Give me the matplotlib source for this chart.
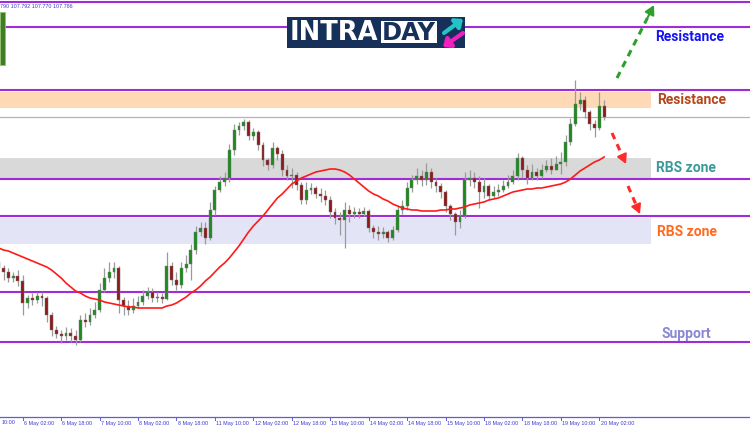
import matplotlib

matplotlib.use("Agg")
import matplotlib.pyplot as plt  # noqa: E402
import matplotlib.transforms as mtransforms  # noqa: E402
from matplotlib.patches import FancyArrowPatch, Rectangle  # noqa: E402

W, H = 750, 430

# USDJPY, 2-hour candles from 5 May to 20 May (open = previous close)
first_open = 107.061
closes = [
    107.031, 107.011, 106.981, 106.991, 106.966, 106.856, 106.881, 106.871, 106.891, 106.881,
    106.796, 106.721, 106.701, 106.691, 106.706, 106.691, 106.671, 106.771, 106.761, 106.796,
    106.821, 106.921, 106.981, 107.011, 107.031, 106.871, 106.841, 106.821, 106.841, 106.861,
    106.891, 106.911, 106.881, 106.886, 106.876, 107.041, 106.971, 106.946, 107.031, 107.051,
    107.121, 107.211, 107.231, 107.181, 107.321, 107.421, 107.461, 107.481, 107.621, 107.721,
    107.741, 107.761, 107.691, 107.711, 107.646, 107.571, 107.546, 107.631, 107.601, 107.521,
    107.491, 107.496, 107.446, 107.371, 107.421, 107.431, 107.401, 107.391, 107.371, 107.311,
    107.281, 107.271, 107.321, 107.301, 107.311, 107.301, 107.316, 107.231, 107.211, 107.201,
    107.211, 107.181, 107.221, 107.321, 107.341, 107.431, 107.471, 107.491, 107.471, 107.511,
    107.461, 107.441, 107.411, 107.341, 107.301, 107.261, 107.291, 107.471, 107.481, 107.461,
    107.411, 107.441, 107.391, 107.411, 107.421, 107.441, 107.461, 107.491, 107.581, 107.521,
    107.481, 107.511, 107.491, 107.521, 107.541, 107.521, 107.551, 107.561, 107.661, 107.751,
    107.851, 107.871, 107.811, 107.751, 107.731, 107.841, 107.786,
]
highs = [
    107.081, 107.046, 107.031, 107.011, 107.021, 106.996, 106.896, 106.906, 106.911, 106.911,
    106.891, 106.811, 106.741, 106.721, 106.736, 106.731, 106.721, 106.796, 106.806, 106.831,
    106.861, 106.956, 107.031, 107.061, 107.061, 107.041, 106.886, 106.871, 106.881, 106.891,
    106.921, 106.936, 106.931, 106.911, 106.906, 107.111, 107.061, 107.011, 107.061, 107.096,
    107.151, 107.241, 107.261, 107.261, 107.361, 107.441, 107.491, 107.511, 107.651, 107.751,
    107.761, 107.776, 107.771, 107.731, 107.721, 107.661, 107.581, 107.661, 107.641, 107.621,
    107.546, 107.531, 107.511, 107.461, 107.461, 107.456, 107.441, 107.431, 107.421, 107.391,
    107.331, 107.311, 107.361, 107.346, 107.336, 107.331, 107.336, 107.326, 107.246, 107.241,
    107.236, 107.221, 107.241, 107.346, 107.371, 107.461, 107.496, 107.531, 107.521, 107.556,
    107.531, 107.481, 107.456, 107.421, 107.351, 107.311, 107.321, 107.511, 107.521, 107.511,
    107.491, 107.481, 107.451, 107.441, 107.451, 107.471, 107.496, 107.521, 107.606, 107.591,
    107.546, 107.551, 107.531, 107.551, 107.571, 107.581, 107.591, 107.611, 107.696, 107.781,
    107.971, 107.911, 107.891, 107.821, 107.771, 107.911, 107.871,
]
lows = [
    107.011, 106.971, 106.961, 106.961, 106.941, 106.796, 106.831, 106.846, 106.856, 106.841,
    106.761, 106.691, 106.681, 106.656, 106.671, 106.661, 106.646, 106.661, 106.736, 106.746,
    106.781, 106.811, 106.911, 106.961, 106.981, 106.806, 106.796, 106.796, 106.806, 106.831,
    106.846, 106.876, 106.861, 106.861, 106.856, 106.871, 106.946, 106.921, 106.931, 107.011,
    106.971, 107.101, 107.191, 107.151, 107.171, 107.296, 107.411, 107.441, 107.461, 107.596,
    107.696, 107.721, 107.671, 107.671, 107.621, 107.541, 107.521, 107.531, 107.571, 107.491,
    107.471, 107.431, 107.421, 107.351, 107.351, 107.401, 107.381, 107.361, 107.346, 107.281,
    107.251, 107.196, 107.131, 107.261, 107.281, 107.281, 107.291, 107.211, 107.181, 107.171,
    107.181, 107.161, 107.171, 107.211, 107.301, 107.321, 107.411, 107.451, 107.441, 107.446,
    107.431, 107.411, 107.381, 107.311, 107.271, 107.196, 107.231, 107.281, 107.441, 107.431,
    107.331, 107.381, 107.371, 107.381, 107.391, 107.411, 107.431, 107.451, 107.471, 107.481,
    107.451, 107.471, 107.471, 107.481, 107.511, 107.501, 107.521, 107.501, 107.541, 107.646,
    107.741, 107.821, 107.781, 107.721, 107.686, 107.721, 107.771,
]
# moving average as drawn by the terminal
ma_values = [
    107.131, 107.121, 107.116, 107.106, 107.096, 107.086, 107.076, 107.066, 107.056, 107.046,
    107.036, 107.021, 107.001, 106.981, 106.956, 106.936, 106.916, 106.906, 106.891, 106.881,
    106.876, 106.871, 106.861, 106.856, 106.851, 106.846, 106.841, 106.836, 106.836, 106.831,
    106.831, 106.831, 106.831, 106.831, 106.831, 106.841, 106.846, 106.856, 106.871, 106.886,
    106.906, 106.921, 106.941, 106.966, 106.986, 107.011, 107.036, 107.056, 107.081, 107.111,
    107.141, 107.176, 107.211, 107.241, 107.266, 107.291, 107.321, 107.351, 107.381, 107.401,
    107.426, 107.451, 107.466, 107.481, 107.491, 107.501, 107.511, 107.516, 107.521, 107.526,
    107.526, 107.521, 107.511, 107.496, 107.476, 107.456, 107.436, 107.416, 107.401, 107.391,
    107.376, 107.366, 107.351, 107.341, 107.331, 107.326, 107.321, 107.321, 107.316, 107.316,
    107.316, 107.316, 107.321, 107.321, 107.326, 107.326, 107.331, 107.336, 107.346, 107.351,
    107.356, 107.361, 107.371, 107.376, 107.381, 107.391, 107.401, 107.411, 107.416, 107.421,
    107.426, 107.426, 107.431, 107.431, 107.436, 107.441, 107.446, 107.451, 107.461, 107.476,
    107.496, 107.516, 107.531, 107.546, 107.561, 107.571, 107.586,
]

# first label is cut by the window edge; only its time part shows
tick_bars = [-3, 5, 13, 21, 29, 37, 45, 53, 61, 69, 77, 85, 93, 101, 109, 117, 125]
tick_labels = [
    "10:00", "6 May 02:00", "6 May 18:00", "7 May 10:00", "8 May 02:00",
    "8 May 18:00", "11 May 10:00", "12 May 02:00", "12 May 18:00", "13 May 10:00",
    "14 May 02:00", "14 May 18:00", "15 May 10:00", "18 May 02:00", "18 May 18:00",
    "19 May 10:00", "20 May 02:00",
]

level_lines = [108.361, 108.236, 107.921, 107.476, 107.289, 106.911, 106.659]
zones = [(107.831, 107.911), (107.481, 107.581), (107.151, 107.281)]
zone_colors = ["#fdd9b6", "#d9d9d9", "#e4e4f7"]
bid_price = 107.786
quote_text = "790 107.792 107.770 107.786"

zone_labels = ["Resistance", "Resistance", "RBS zone", "RBS zone", "Support"]
zone_label_colors = ["#1414f0", "#b5451b", "#3a9a9a", "#ff6a1e", "#8a86d2"]


def fpx(x, y):
    """Figure fraction from pixel position (origin top-left)."""
    return (x / W, 1 - y / H)


fig = plt.figure(figsize=(W / 100, H / 100), dpi=100)
ax = fig.add_axes([0, 0, 1, 1])
ax.set_axis_off()

# one bar every 4.805 px, bar 0 sits at x = -1.3 px
bar_px = 4.805
ax.set_xlim(1.3 / bar_px, (W + 1.3) / bar_px)
ax.set_ylim(108.371 - 0.005 * H, 108.371)

for (lo_p, hi_p), col in zip(zones, zone_colors):
    ax.axhspan(lo_p, hi_p, xmin=0, xmax=651 / W, color=col, lw=0, zorder=1)

ax.axhline(bid_price, color="#b4b4b4", lw=0.9, zorder=2)
for lvl in level_lines:
    ax.axhline(lvl, color="#a32ad8", lw=1.5, zorder=2)

# candles
opens = [first_open] + closes[:-1]
for i, (o, c, h, l) in enumerate(zip(opens, closes, highs, lows)):
    hi = max(h, o, c)
    lo = min(l, o, c)
    ax.vlines(i, lo, hi, color="#9a9a9a", lw=0.9, zorder=3)
    body = c - o
    if abs(body) < 0.004:
        body = 0.004 if body >= 0 else -0.004
    color = "#1f8a1f" if c >= o else "#8e1b1b"
    ax.bar(i, body, bottom=o, width=0.6, color=color, edgecolor="#7a7a7a",
           linewidth=0.3, zorder=4)

ax.plot(range(len(ma_values)), ma_values, color="#ff1a1a", lw=1.2, zorder=5)

# time axis along the bottom
blend = mtransforms.blended_transform_factory(ax.transData, ax.transAxes)
axis_y = 1 - 417 / H
ax.plot([0, 1], [axis_y, axis_y], transform=ax.transAxes, color="#5c5ce0", lw=0.9)
for b, lab in zip(tick_bars, tick_labels):
    ax.plot([b, b], [axis_y, axis_y - 2.5 / H], transform=blend, color="#5c5ce0", lw=0.7)
    if b < 0:
        fig.text(*fpx(2, 423), lab, fontsize=3.9, family="Liberation Sans",
                 color="#3a3ad0", va="center", ha="left")
        continue
    ax.text(b + 0.25, 1 - 423 / H, lab, transform=blend, fontsize=3.9,
            family="Liberation Sans", color="#3a3ad0", va="center", ha="left")

# top-left quote and terminal button
fig.text(*fpx(0, 6), quote_text, fontsize=3.9, family="Liberation Sans",
         color="#3a3ad0", va="center", ha="left")
fig.patches.append(Rectangle(fpx(0, 65), 4.5 / W, 53 / H, transform=fig.transFigure,
                             facecolor="#3f7f22", edgecolor="#8fc070", lw=0.6))

# zone annotations on the right
label_pos = [(655, 37), (657, 100), (656, 168), (657, 232), (661, 334)]
for (x, y), txt, col in zip(label_pos, zone_labels, zone_label_colors):
    fig.text(*fpx(x, y), txt, fontsize=10, family="Roboto", fontweight="bold",
             color=col, va="center", ha="left")


def dashed_arrow(start, tip, color):
    sx, sy = fpx(*start)
    tx, ty = fpx(*tip)
    bx, by = sx + (tx - sx) * 0.82, sy + (ty - sy) * 0.82
    fig.add_artist(plt.Line2D([sx, bx], [sy, by], transform=fig.transFigure,
                              color=color, lw=2.2, dashes=(2.2, 1.8)))
    ax.annotate("", xy=(tx, ty), xytext=(bx, by), xycoords="figure fraction",
                textcoords="figure fraction",
                arrowprops=dict(arrowstyle="-|>,head_width=0.3,head_length=0.55",
                                color=color, lw=1.5, shrinkA=0, shrinkB=0))


dashed_arrow((617, 78), (654, 5), "#2ca02c")
dashed_arrow((612, 133), (626, 164), "#ff2b2b")
dashed_arrow((628, 186), (640, 214), "#ff2b2b")

# logo
navy = "#16305a"
fig.patches.append(Rectangle(fpx(287, 47.5), 178 / W, 30.5 / H, transform=fig.transFigure,
                             facecolor=navy, edgecolor="none", zorder=10))
fig.patches.append(Rectangle(fpx(381, 42.5), 56 / W, 21 / H, transform=fig.transFigure,
                             facecolor="white", edgecolor="none", zorder=11))
fig.text(*fpx(290, 32.5), "INTRA", fontsize=18.5, fontweight="bold", family="DejaVu Sans",
         color="white", va="center", ha="left", zorder=12)
fig.text(*fpx(382, 32.5), "DAY", fontsize=17.5, fontweight="bold", family="DejaVu Sans",
         color=navy, va="center", ha="left", zorder=12)
for a, b, col in [((444, 33), (463, 19), "#22c4c8"), ((463, 33), (443, 47), "#f020c0")]:
    fig.add_artist(FancyArrowPatch(fpx(*a), fpx(*b), transform=fig.transFigure,
                                   arrowstyle="-|>,head_width=3.5,head_length=4",
                                   color=col, lw=3, shrinkA=0, shrinkB=0, zorder=13))

fig.savefig("out.png", dpi=100)
